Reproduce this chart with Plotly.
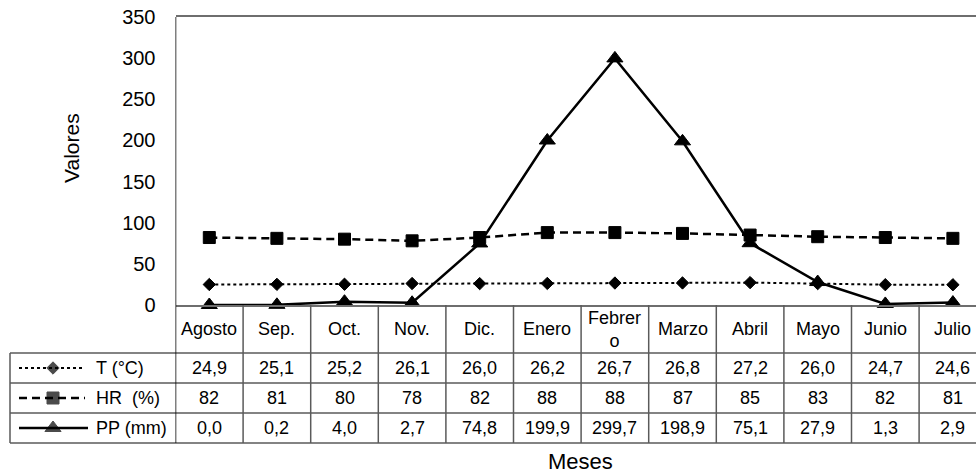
import plotly.graph_objects as go

# Monthly climate data (Aug-Jul)
meses = ["Agosto", "Sep.", "Oct.", "Nov.", "Dic.", "Enero", "Febrero",
         "Marzo", "Abril", "Mayo", "Junio", "Julio"]
temperatura = [24.9, 25.1, 25.2, 26.1, 26.0, 26.2, 26.7, 26.8, 27.2, 26.0, 24.7, 24.6]
humedad = [82, 81, 80, 78, 82, 88, 88, 87, 85, 83, 82, 81]
precipitacion = [0.0, 0.2, 4.0, 2.7, 74.8, 199.9, 299.7, 198.9, 75.1, 27.9, 1.3, 2.9]
series_nombres = ["T (°C)", "HR\u00a0 (%)", "PP (mm)"]
y_ticks = [0, 50, 100, 150, 200, 250, 300, 350]

W, H = 976, 475
FONT = "Liberation Sans, Arial, sans-serif"

# page geometry (pixels)
PLOT_L, PLOT_T, PLOT_B = 175.5, 17, 305
CELL_W = 67.6
ROWS = [305, 353, 383, 413, 443]
TABLE_L = 10
GRID = "#5a5a5a"


def yp(p):
    return 1 - p / H


def xp(p):
    return p / W


def fmt(v, dec):
    return f"{v:.{dec}f}".replace(".", ",")


def wrap(name, n=6):
    return name if len(name) <= n else name[:n] + "<br>" + name[n:]


x_right = -0.5 + (W - PLOT_L) / CELL_W
idx = list(range(len(meses)))

estilos = [
    dict(dash="dot", width=2, symbol="diamond", size=9.5),
    dict(dash="8px,5px", width=2.5, symbol="square", size=12),
    dict(dash="solid", width=2.5, symbol="triangle-up", size=14),
]
series = [temperatura, humedad, precipitacion]

fig = go.Figure()
for nombre, vals, st in zip(series_nombres, series, estilos):
    fig.add_trace(go.Scatter(
        x=idx, y=vals, name=nombre, mode="lines+markers",
        line=dict(color="black", width=st["width"], dash=st["dash"]),
        marker=dict(symbol=st["symbol"], size=st["size"], color="black",
                    line=dict(color="black", width=1)),
        cliponaxis=False, showlegend=False,
    ))

# legend keys in the first column of the data table
key_rows = [(ROWS[1] + ROWS[2]) / 2, (ROWS[2] + ROWS[3]) / 2, (ROWS[3] + ROWS[4]) / 2]
key_ends = [83, 85, 88]
for yk, xe, st in zip(key_rows, key_ends, estilos):
    fig.add_trace(go.Scatter(
        x=[19, 53, xe], y=[yk, yk, yk], mode="lines+markers",
        line=dict(color="black", width=st["width"], dash=st["dash"]),
        marker=dict(symbol=st["symbol"], size=[0, st["size"], 0], color="black",
                    line=dict(color="black", width=[0, 1, 0])),
        xaxis="x2", yaxis="y2", showlegend=False, hoverinfo="skip",
        cliponaxis=False,
    ))

shapes = []
# horizontal table rules
for r in ROWS[1:]:
    shapes.append(dict(type="line", xref="paper", yref="paper",
                       x0=xp(TABLE_L), x1=1, y0=yp(r), y1=yp(r),
                       line=dict(color=GRID, width=1.5)))
# left edge of the table
shapes.append(dict(type="line", xref="paper", yref="paper",
                   x0=xp(TABLE_L), x1=xp(TABLE_L), y0=yp(ROWS[1]), y1=yp(ROWS[4]),
                   line=dict(color=GRID, width=1.5)))
# month column separators
for i in idx:
    shapes.append(dict(type="line", xref="x", yref="paper",
                       x0=i + 0.5, x1=i + 0.5, y0=yp(ROWS[0]), y1=yp(ROWS[4]),
                       line=dict(color=GRID, width=1.5)))
# value axis line continues down through the table
shapes.append(dict(type="line", xref="x", yref="paper",
                   x0=-0.5, x1=-0.5, y0=yp(PLOT_T), y1=yp(ROWS[4]),
                   line=dict(color="black", width=1.5)))

annotations = []
hdr_y = (ROWS[0] + ROWS[1]) / 2
for i, m in zip(idx, meses):
    annotations.append(dict(x=i, y=yp(hdr_y), xref="x", yref="paper",
                            text=wrap(m), showarrow=False,
                            font=dict(family=FONT, size=18, color="black"),
                            yanchor="middle", xanchor="center"))
decs = [1, 0, 1]
for vals, d, yk in zip(series, decs, key_rows):
    for i, v in zip(idx, vals):
        annotations.append(dict(x=i, y=yp(yk), xref="x", yref="paper",
                                text=fmt(v, d), showarrow=False,
                                font=dict(family=FONT, size=18, color="black"),
                                yanchor="middle", xanchor="center"))
for nombre, yk in zip(series_nombres, key_rows):
    annotations.append(dict(x=xp(94), y=yp(yk), xref="paper", yref="paper",
                            text=nombre, showarrow=False,
                            font=dict(family=FONT, size=18, color="black"),
                            yanchor="middle", xanchor="left"))
annotations.append(dict(x=xp(580), y=yp(461), xref="paper", yref="paper",
                        text="Meses", showarrow=False,
                        font=dict(family=FONT, size=22, color="black"),
                        yanchor="middle", xanchor="center"))
annotations.append(dict(x=xp(71), y=yp(148), xref="paper", yref="paper",
                        text="Valores", showarrow=False, textangle=-90,
                        font=dict(family=FONT, size=21, color="black"),
                        yanchor="middle", xanchor="center"))

fig.update_layout(
    width=W, height=H,
    margin=dict(l=0, r=0, t=0, b=0, pad=0, autoexpand=False),
    paper_bgcolor="white", plot_bgcolor="white",
    font=dict(family=FONT, color="black"),
    xaxis=dict(domain=[xp(PLOT_L), 1], range=[-0.5, x_right],
               showticklabels=False, ticks="", showgrid=False, zeroline=False,
               showline=True, mirror=True, linecolor="#6e6e6e", linewidth=1.5,
               fixedrange=True, automargin=False),
    yaxis=dict(domain=[yp(PLOT_B), yp(PLOT_T)], range=[0, 350],
               tickvals=y_ticks, ticks="", ticklabelstandoff=19,
               tickfont=dict(family=FONT, size=20, color="black"),
               showgrid=False, zeroline=False, showline=False,
               automargin=False),
    xaxis2=dict(domain=[0, xp(PLOT_L)], range=[0, PLOT_L], anchor="y2",
                visible=False, fixedrange=True, automargin=False),
    yaxis2=dict(domain=[0, 1], range=[H, 0], anchor="x2",
                visible=False, fixedrange=True, automargin=False),
    shapes=shapes,
    annotations=annotations,
    showlegend=False,
)

fig.write_html("out.html")
